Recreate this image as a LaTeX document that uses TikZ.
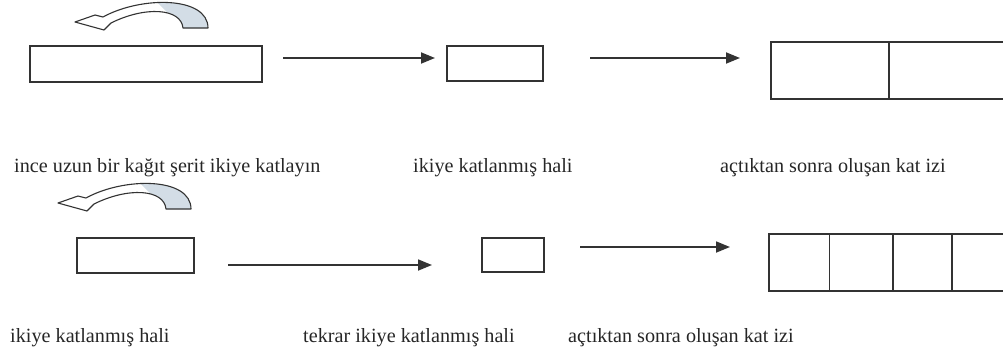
\documentclass[tikz,border=0pt]{standalone}
\usepackage{fontspec}
\setmainfont{Liberation Serif}
\usetikzlibrary{arrows.meta,calc}
\definecolor{ink}{HTML}{333333}
\definecolor{shadeblue}{HTML}{D3DDE6}
\begin{document}
\begin{tikzpicture}[x=1pt,y=-1pt,
  box/.style={draw=ink,line width=1.8pt,inner sep=0pt,anchor=north west},
  divider/.style={draw=ink,line width=1.8pt},
  arr/.style={draw=ink,line width=1.8pt,-{Triangle[length=14pt,width=11pt]}},
  lbl/.style={anchor=base west,inner sep=0pt,font=\fontsize{20.2}{23}\selectfont,text=black!85},
  pics/foldarrow/.style={code={
    \fill[white] (0,0) -- (20,-7) -- (28,-5) .. controls (66,-26) and (133,-26) .. (133,6) -- (108,6) .. controls (106,-14) and (70,-16) .. (36,1) -- (29,8) -- cycle;
    \begin{scope}
      \clip (72,-30) -- (150,-30) -- (150,12) -- (114,12) -- cycle;
      \fill[shadeblue] (0,0) -- (20,-7) -- (28,-5) .. controls (66,-26) and (133,-26) .. (133,6) -- (108,6) .. controls (106,-14) and (70,-16) .. (36,1) -- (29,8) -- cycle;
    \end{scope}
    \draw[ink,line width=1.1pt,line join=round] (0,0) -- (20,-7) -- (28,-5) .. controls (66,-26) and (133,-26) .. (133,6) -- (108,6) .. controls (106,-14) and (70,-16) .. (36,1) -- (29,8) -- cycle;
  }}]
\useasboundingbox (0,0) rectangle (1003,354);
\clip (0,0) rectangle (1003,354);

% row 1
\pic at (75,22) {foldarrow};
\node[box,minimum width=232pt,minimum height=36pt] (strip) at (29,45) {};
\node[box,minimum width=96pt,minimum height=35pt] (half1) at (446,45) {};
\node[box,minimum width=236pt,minimum height=57pt] (open1) at (770,41) {};
\draw[divider] (open1.north) -- (open1.south);
\coordinate (a1s) at (283,58); \coordinate (a1e) at (435,58);
\coordinate (a2s) at (590,58); \coordinate (a2e) at (740,58);
\draw[arr] (a1s) -- (a1e);
\draw[arr] (a2s) -- (a2e);
\node[lbl] (t1) at (14,172) {ince uzun bir kağıt şerit ikiye katlayın};
\node[lbl] (t2) at (413,172) {ikiye katlanmış hali};
\node[lbl] (t3) at (720,172) {açtıktan sonra oluşan kat izi};

% row 2
\pic at (58,203) {foldarrow};
\node[box,minimum width=117pt,minimum height=35pt] (half2) at (76,237) {};
\node[box,minimum width=62pt,minimum height=34pt] (quarter) at (481,237) {};
\node[box,minimum width=244pt,minimum height=57pt] (open2) at (768,233) {};
\foreach \f in {0.25,0.508,0.75}
  \draw[divider] ($(open2.north west)!\f!(open2.north east)$) -- ($(open2.south west)!\f!(open2.south east)$);
\coordinate (a3s) at (228,265); \coordinate (a3e) at (432,265);
\coordinate (a4s) at (580,247); \coordinate (a4e) at (730,247);
\draw[arr] (a3s) -- (a3e);
\draw[arr] (a4s) -- (a4e);
\node[lbl] (t4) at (10,342) {ikiye katlanmış hali};
\node[lbl] (t5) at (303,342) {tekrar ikiye katlanmış hali};
\node[lbl] (t6) at (568,342) {açtıktan sonra oluşan kat izi};
\end{tikzpicture}
\end{document}
